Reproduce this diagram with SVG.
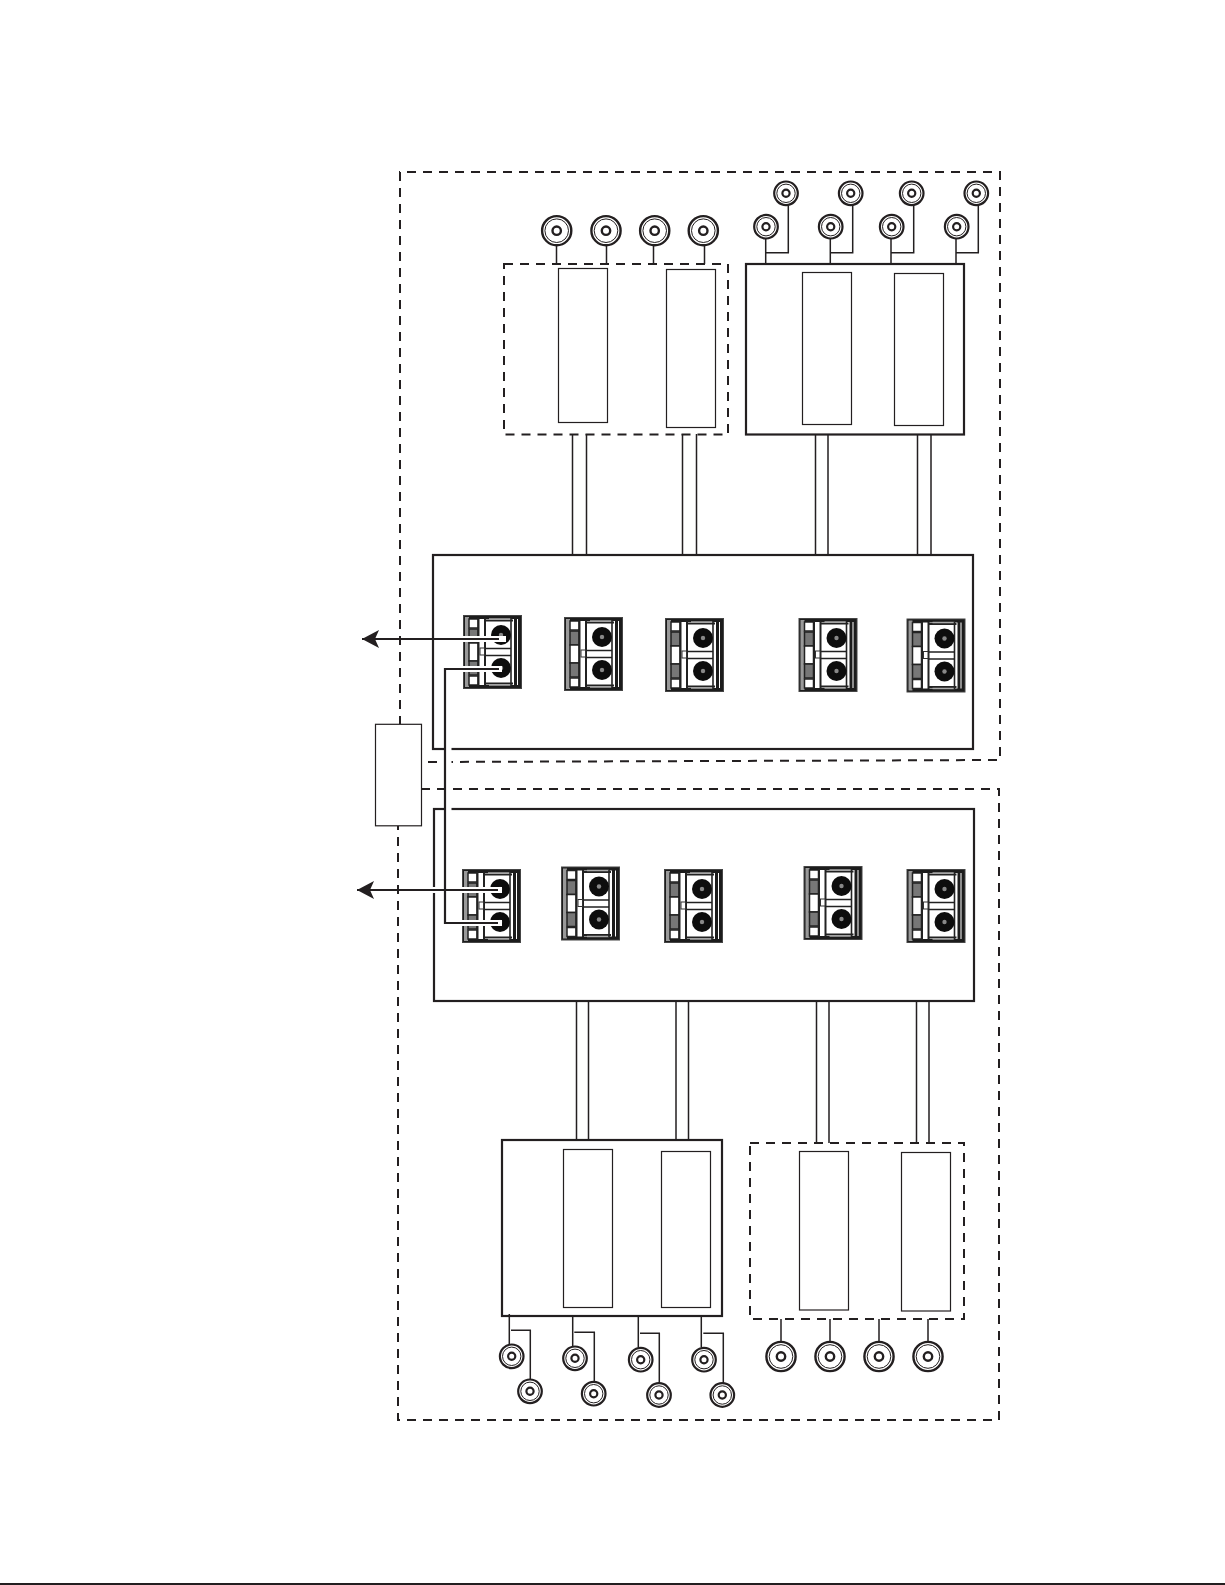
<svg xmlns="http://www.w3.org/2000/svg" xmlns:xlink="http://www.w3.org/1999/xlink" width="1225" height="1585" viewBox="0 0 1225 1585">
<style>
.box{fill:#fff;stroke:#231f20;stroke-width:2.2}
.inner{fill:#fff;stroke:#231f20;stroke-width:1.2}
.dash{fill:none;stroke:#231f20;stroke-width:2;stroke-dasharray:9 7}
.w{fill:none;stroke:#231f20;stroke-width:1.5}
.lead{fill:none;stroke:#231f20;stroke-width:2.2}
.halo{fill:none;stroke:#fff;stroke-width:6}
</style>
<defs>
<filter id="soft" x="-5%" y="-5%" width="110%" height="110%"><feGaussianBlur stdDeviation="0.6"/></filter>
<marker id="arrow" markerUnits="userSpaceOnUse" markerWidth="22" markerHeight="22" refX="19" refY="11" orient="auto" viewBox="0 0 22 22"><path d="M19 11L2 2 L6 11 L2 20Z" fill="#231f20"/></marker>
<g id="bl">
<circle r="14.6" fill="#fff" stroke="#231f20" stroke-width="2.4"/><circle r="11.8" fill="none" stroke="#231f20" stroke-width="1"/><circle r="4.2" fill="#fff" stroke="#231f20" stroke-width="2.4"/>
</g>
<g id="bs">
<circle r="11.8" fill="#fff" stroke="#231f20" stroke-width="2.2"/><circle r="9.2" fill="none" stroke="#231f20" stroke-width="1"/><circle r="3.6" fill="#fff" stroke="#231f20" stroke-width="2.2"/>
</g>
<g id="lc" filter="url(#soft)">
<rect x="0" y="0" width="59" height="74" fill="#444"/>
<rect x="2.500" y="2.500" width="54" height="69" fill="#fff" stroke="#1a1a1a" stroke-width="3"/>
<rect x="2" y="2" width="4" height="70" fill="#999"/>
<rect x="6" y="4" width="9" height="9" fill="#fff" stroke="#222" stroke-width="1.5"/>
<rect x="6" y="14" width="9" height="14" fill="#777" stroke="#222" stroke-width="1.5"/>
<rect x="6" y="28" width="9" height="18" fill="#fff" stroke="#222" stroke-width="1.5"/>
<rect x="6" y="46" width="9" height="14" fill="#777" stroke="#222" stroke-width="1.5"/>
<rect x="6" y="61" width="9" height="9" fill="#fff" stroke="#222" stroke-width="1.5"/>
<path d="M15.500 3V71M22 3V71" stroke="#222" stroke-width="2" fill="none"/>
<rect x="17" y="33" width="4.500" height="7" fill="#fff" stroke="#333"/>
<path d="M22 33.500H48M22 40.500H48" stroke="#222" stroke-width="1.6"/>
<path d="M22 5.500H50M22 68.500H50" stroke="#222" stroke-width="2"/><path d="M26 4H48M26 70H48" stroke="#aaa" stroke-width="1.5"/>
<path d="M48 3V71" stroke="#222" stroke-width="1.6"/><path d="M52.500 3V71" stroke="#1a1a1a" stroke-width="3"/>
<circle cx="38" cy="20" r="10" fill="#0d0d0d"/><circle cx="38" cy="20" r="2.200" fill="#888"/>
<circle cx="38" cy="53" r="10" fill="#0d0d0d"/><circle cx="38" cy="53" r="2.200" fill="#888"/>
</g>
</defs>
<rect width="1225" height="1585" fill="#fff"/>
<path id="upper-frame" class="dash" d="M428 762 L1000 760 V172 H400 V724"/>
<path id="lower-frame" class="dash" d="M421 789 H999 V1420 H398 V826"/>
<g id="upper-module"><rect class="box" x="433" y="555" width="540" height="194"/>
<use xlink:href="#lc" href="#lc" x="463" y="615"/><use xlink:href="#lc" href="#lc" x="564" y="617"/><use xlink:href="#lc" href="#lc" x="665" y="618"/><use xlink:href="#lc" href="#lc" x="798.500" y="618"/><use xlink:href="#lc" href="#lc" x="906.500" y="618.500"/></g>
<g id="lower-module"><rect class="box" x="434" y="809" width="540" height="192"/>
<use xlink:href="#lc" href="#lc" x="462" y="869"/><use xlink:href="#lc" href="#lc" x="561" y="866.500"/><use xlink:href="#lc" href="#lc" x="664" y="869"/><use xlink:href="#lc" href="#lc" x="803.500" y="866"/><use xlink:href="#lc" href="#lc" x="906.500" y="869"/></g>
<g id="box-a"><rect x="504" y="264" width="224" height="170.500" class="dash"/><rect class="inner" x="558.500" y="268.500" width="49" height="154"/><rect class="inner" x="666.500" y="269.500" width="49" height="158"/></g>
<g id="box-b"><rect class="box" x="746" y="264" width="218" height="170.500"/><rect class="inner" x="802.500" y="272.500" width="49" height="152"/><rect class="inner" x="894.500" y="273.500" width="49" height="152"/></g>
<g id="box-c"><rect class="box" x="502" y="1140" width="220" height="176"/><rect class="inner" x="563.500" y="1149.500" width="49" height="158"/><rect class="inner" x="661.500" y="1151.500" width="49" height="156"/></g>
<g id="box-d"><rect x="750" y="1143" width="214" height="176" class="dash"/><rect class="inner" x="799.500" y="1151.500" width="49" height="158.500"/><rect class="inner" x="901.500" y="1152.500" width="49" height="158.500"/></g>
<g id="connectors">
<path class="w" d="M572.500 434V555M586.500 434V555M682.500 434V555M696.500 434V555M815.500 434V555M828 434V555M917.500 434V555M931 434V555"/>
<path class="w" d="M576.500 1001V1140M588.500 1001V1140M676 1001V1140M688.500 1001V1140M816.500 1001V1143M829 1001V1143M916.500 1001V1143M929 1001V1143"/>
<path class="w" d="M556.500 246V264M606.500 246V264M653.500 246V264M704.500 246V264"/>
<path class="w" d="M765.700 239V264M765.700 252.700H788.300V206M830.300 239V264M830.300 252.700H852.700V206M891 239V264M891 252.700H913.700V206M956 239V264M956 252.700H978.300V206"/>
<path class="w" d="M509.300 1314V1344M511 1330.300H530.300V1379M572.700 1316V1346M574.300 1332.300H594.300V1381M638.300 1316V1347M640 1333.300H659.300V1383M701.300 1316V1347M703.300 1333.300H723.300V1383"/>
<path class="w" d="M781 1319V1341M830 1319V1341M879 1319V1341M928 1319V1341"/>
<path class="halo" d="M448.500 745V813" stroke-width="5"/>
<path class="halo" d="M506 639H462M502 669H450M502 923H450M502 890H428"/>
<path class="lead" d="M499 669H445V923H498"/>
<path class="lead" d="M499 639H362" marker-end="url(#arrow)"/>
<path class="lead" d="M498 890H357" marker-end="url(#arrow)"/>
</g>
<g id="coax">
<use xlink:href="#bl" href="#bl" x="556.700" y="230.700"/><use xlink:href="#bl" href="#bl" x="606" y="230.700"/><use xlink:href="#bl" href="#bl" x="654.700" y="230.700"/><use xlink:href="#bl" href="#bl" x="703.300" y="230.700"/>
<use xlink:href="#bs" href="#bs" x="786" y="193.300"/><use xlink:href="#bs" href="#bs" x="850.700" y="193.300"/><use xlink:href="#bs" href="#bs" x="911.700" y="193.300"/><use xlink:href="#bs" href="#bs" x="976.300" y="193.300"/>
<use xlink:href="#bs" href="#bs" x="766" y="226.700"/><use xlink:href="#bs" href="#bs" x="830.700" y="226.700"/><use xlink:href="#bs" href="#bs" x="891.700" y="226.700"/><use xlink:href="#bs" href="#bs" x="956.700" y="226.700"/>
<use xlink:href="#bs" href="#bs" x="511.700" y="1356.300"/><use xlink:href="#bs" href="#bs" x="575" y="1358.300"/><use xlink:href="#bs" href="#bs" x="640.700" y="1359.700"/><use xlink:href="#bs" href="#bs" x="704" y="1359.700"/>
<use xlink:href="#bs" href="#bs" x="530" y="1391.300"/><use xlink:href="#bs" href="#bs" x="593.700" y="1393.700"/><use xlink:href="#bs" href="#bs" x="659" y="1395"/><use xlink:href="#bs" href="#bs" x="722.300" y="1395"/>
<use xlink:href="#bl" href="#bl" x="781" y="1356.500"/><use xlink:href="#bl" href="#bl" x="830" y="1356.500"/><use xlink:href="#bl" href="#bl" x="879" y="1356.500"/><use xlink:href="#bl" href="#bl" x="928" y="1356.500"/>
</g>
<g id="link-box"><rect class="inner" x="375.500" y="724.300" width="46" height="101.500"/></g>
<rect id="baseline" x="0" y="1583" width="1225" height="2" fill="#231f20"/>
</svg>
